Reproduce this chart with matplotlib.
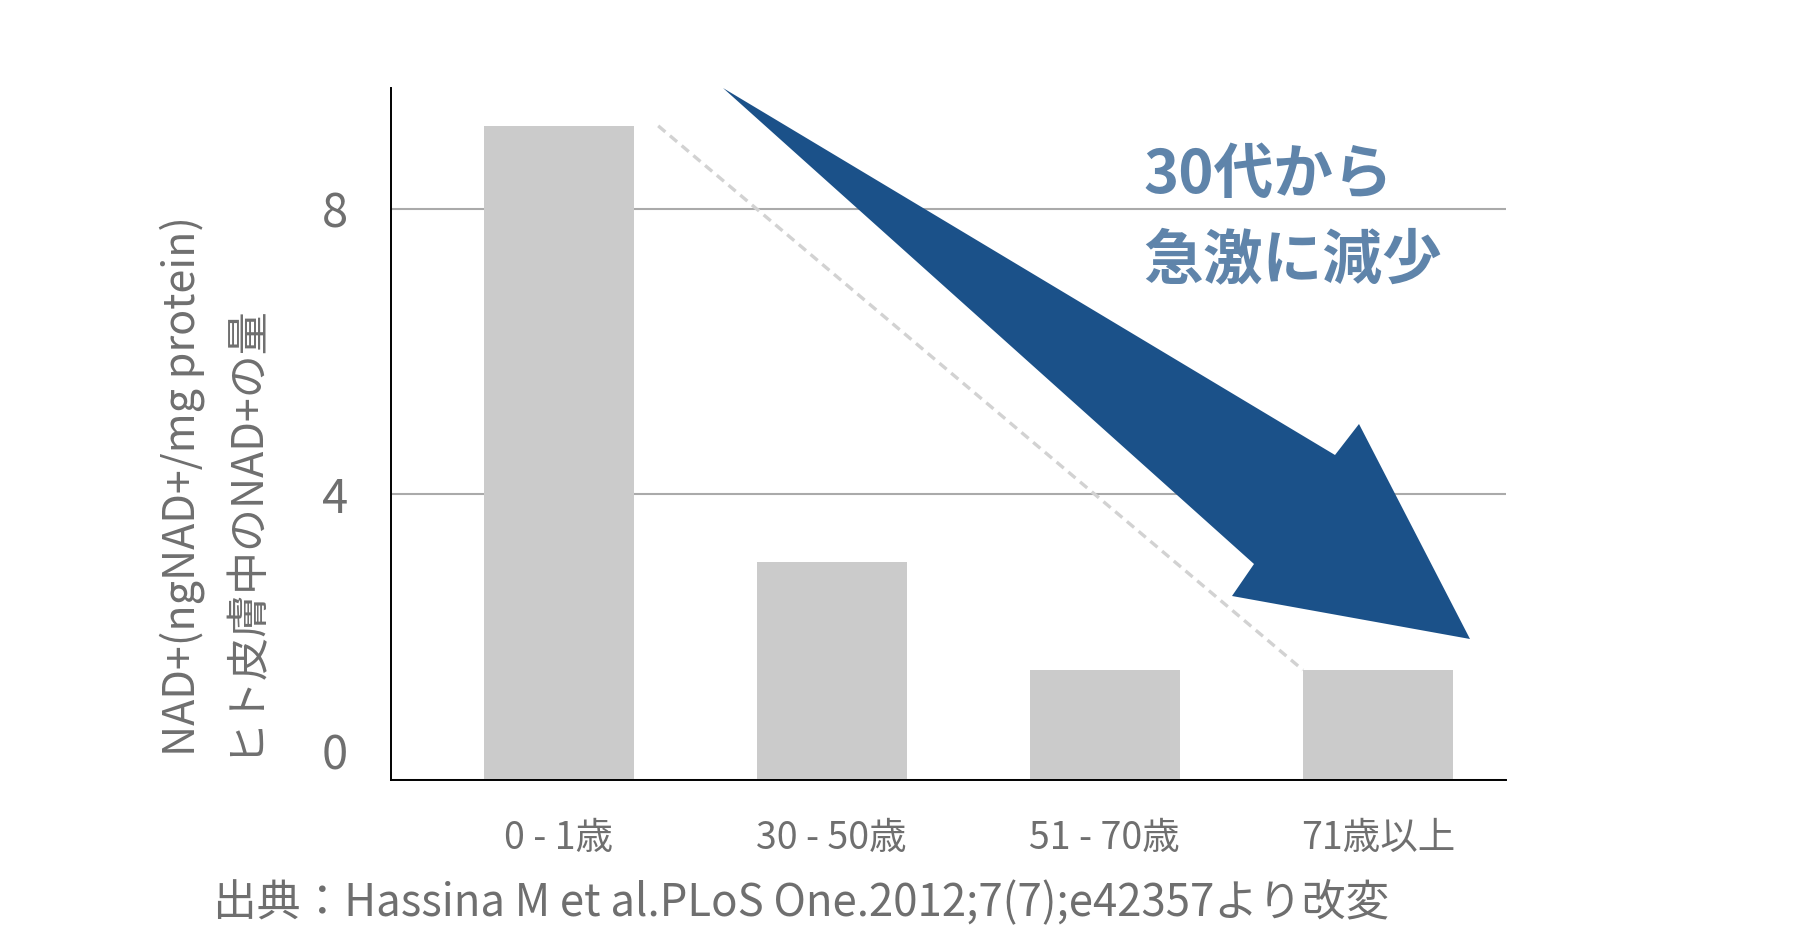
import matplotlib.pyplot as plt
from matplotlib.patches import Polygon

plt.rcParams['font.family'] = ['Noto Sans CJK JP', 'DejaVu Sans']

# data
age_groups = ["0 - 1歳", "30 - 50歳", "51 - 70歳", "71歳以上"]
nad_values = [9.16, 3.05, 1.54, 1.54]
y_ticks = [0, 4, 8]

grey_text = "#6f6f6f"
W, H = 1800, 948

fig = plt.figure(figsize=(W / 100, H / 100), dpi=100)
ax = fig.add_axes([391 / W, 1 - 780 / H, (1506 - 391) / W, (780 - 88) / H])

x = range(len(age_groups))
bar_w = 0.549
ax.bar(x, nad_values, width=bar_w, color="#cbcbcb", zorder=2)

ax.set_xlim(-0.614, 3.469)
ax.set_ylim(0, 9.69)
ax.set_yticks(y_ticks)
ax.set_xticks(list(x))
ax.set_xticklabels(age_groups)

ax.yaxis.grid(True, color="#aaaaaa", linewidth=1.5)
ax.set_axisbelow(True)
for s in ["top", "right"]:
    ax.spines[s].set_visible(False)
for s in ["left", "bottom"]:
    ax.spines[s].set_color("black")
    ax.spines[s].set_linewidth(1.4)
    ax.spines[s].set_zorder(4)

ax.tick_params(axis="y", length=0, pad=31, labelsize=34, labelcolor=grey_text)
ax.tick_params(axis="x", length=0, pad=28, labelsize=27, labelcolor=grey_text)
# the 0 label sits a bit above the axis line in the original
ax.yaxis.get_major_ticks()[0].label1.set_va("bottom")

# dashed trend line from top of first bar to top of last bar
ax.plot([0 + bar_w / 2 + 0.09, 3 - bar_w / 2], [nad_values[0], nad_values[3]],
        color="#d2d2d2", linewidth=2.4, linestyle=(0, (2.8, 1.8)), zorder=3)

# big blue arrow (pixel positions of the decoration)
arrow_px = [(723, 88), (1335, 455), (1359, 424), (1470, 639), (1232, 596), (1254, 564)]
arrow = Polygon([(px / W, 1 - py / H) for px, py in arrow_px], closed=True,
                transform=fig.transFigure, facecolor="#1b5189", edgecolor="none", zorder=5)
fig.patches.append(arrow)

# annotation, one text per line so the baselines land where they should
note_lines = ["30代から", "急激に減少"]
for line, base in zip(note_lines, [193, 279]):
    fig.text(1143 / W, 1 - base / H, line, fontsize=43, fontweight="bold",
             color="#5f84aa", ha="left", va="baseline")

# y label, two lines rotated
fig.text(212 / W, 1 - 756 / H, "NAD+(ngNAD+/mg protein)\nヒト皮膚中のNAD+の量",
         rotation=90, ha="center", va="bottom", multialignment="left",
         fontsize=31, color=grey_text, linespacing=1.45)

fig.text(213 / W, 1 - 915 / H, "出典：Hassina M et al.PLoS One.2012;7(7);e42357より改変",
         fontsize=31.5, color=grey_text, ha="left", va="baseline")

fig.savefig("out.png", dpi=100)
